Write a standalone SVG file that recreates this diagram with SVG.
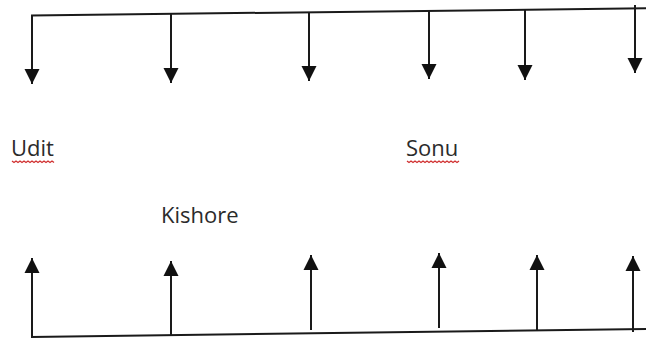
<svg xmlns="http://www.w3.org/2000/svg" width="646" height="341" viewBox="0 0 646 341">
<style>
.bar{stroke:#1a1a1a;stroke-width:2;fill:none}
.arr{stroke:#1a1a1a;stroke-width:2;fill:none;marker-end:url(#ah)}
.lbl{font-family:"Open Sans","Noto Sans",sans-serif;font-size:22px;fill:#2b2b2b}
.sq{stroke:#d03030;stroke-width:1.3;fill:none}
</style>
<defs>
<marker id="ah" markerUnits="userSpaceOnUse" markerWidth="16" markerHeight="16" refX="15" refY="8" orient="auto" viewBox="0 0 16 16">
<path d="M0,0.5 L15,8 L0,15.5 z" fill="#111"/>
</marker>
</defs>
<rect width="646" height="341" fill="#fff"/>
<g id="connectors">
<line class="bar" x1="31" y1="15.5" x2="646" y2="8.3"/>
<line class="arr" x1="32" y1="15" x2="32" y2="84"/>
<line class="arr" x1="171" y1="14" x2="171" y2="83"/>
<line class="arr" x1="309" y1="12" x2="309" y2="81"/>
<line class="arr" x1="429" y1="11" x2="429" y2="79"/>
<line class="arr" x1="525" y1="10" x2="525" y2="80"/>
<line class="arr" x1="635" y1="5" x2="635" y2="73"/>
<line class="bar" x1="31" y1="337" x2="646" y2="329"/>
<line class="arr" x1="32" y1="337" x2="32" y2="258"/>
<line class="arr" x1="171" y1="335" x2="171" y2="261"/>
<line class="arr" x1="311" y1="330" x2="311" y2="255"/>
<line class="arr" x1="439" y1="328" x2="439" y2="253"/>
<line class="arr" x1="537" y1="330" x2="537" y2="255"/>
<line class="arr" x1="633" y1="332" x2="633" y2="256"/>
</g>
<g id="udit">
<text class="lbl" x="11" y="156">Udit</text>
<path class="sq" d="M12,161 l2,1.5 l2,-1.5 l2,1.5 l2,-1.5 l2,1.5 l2,-1.5 l2,1.5 l2,-1.5 l2,1.5 l2,-1.5 l2,1.5 l2,-1.5 l2,1.5 l2,-1.5 l2,1.5 l2,-1.5 l2,1.5 l2,-1.5 l2,1.5 l2,-1.5 l2,1.5"/>
</g>
<g id="kishore">
<text class="lbl" x="161" y="223">Kishore</text>
</g>
<g id="sonu">
<text class="lbl" x="406" y="156">Sonu</text>
<path class="sq" d="M407,161 l2,1.5 l2,-1.5 l2,1.5 l2,-1.5 l2,1.5 l2,-1.5 l2,1.5 l2,-1.5 l2,1.5 l2,-1.5 l2,1.5 l2,-1.5 l2,1.5 l2,-1.5 l2,1.5 l2,-1.5 l2,1.5 l2,-1.5 l2,1.5 l2,-1.5 l2,1.5 l2,-1.5 l2,1.5 l2,-1.5 l2,1.5 l2,-1.5"/>
</g>
</svg>
